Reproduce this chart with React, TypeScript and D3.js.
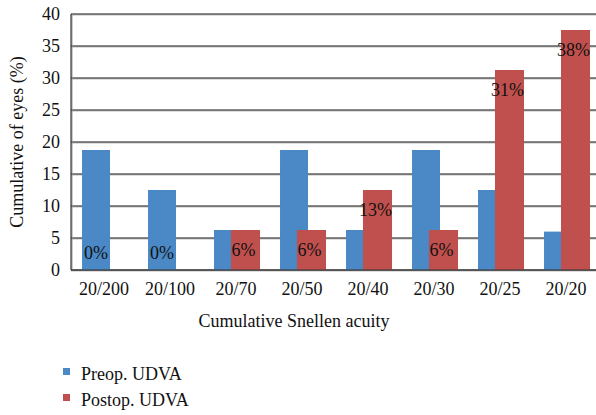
import React from 'react';
import * as d3 from 'd3';

const categories = ['20/200', '20/100', '20/70', '20/50', '20/40', '20/30', '20/25', '20/20'];
const preop = [18.75, 12.5, 6.25, 18.75, 6.25, 18.75, 12.5, 6];
const postop = [0, 0, 6.25, 6.25, 12.5, 6.25, 31.25, 37.5];
const postopLabels = ['0%', '0%', '6%', '6%', '13%', '6%', '31%', '38%'];
const yTicks = [0, 5, 10, 15, 20, 25, 30, 35, 40];
const seriesNames = ['Preop. UDVA', 'Postop. UDVA'];

const BLUE = '#4a88c6';
const RED = '#c0504d';
const FONT = "'Liberation Serif', serif";

const width = 596;
const height = 415;
const padding = { top: 14, left: 71, bottom: 145 };
const plotRight = 599;

export default function App() {
  const x = d3
    .scaleBand<string>()
    .domain(categories)
    .range([padding.left, plotRight]);

  const y = d3
    .scaleLinear()
    .domain([0, 40])
    .range([height - padding.bottom, padding.top]);

  const bw = x.bandwidth();
  const blueX = (c: string) => x(c)! + bw * 0.167;
  const blueW = bw * 0.424;
  const redX = (c: string) => x(c)! + bw * 0.424;
  const redW = bw * 0.44;

  const base = y(0);

  return (
    <svg
      width={width}
      height={height}
      style={{ position: 'absolute', left: 0, top: 0, background: '#fff', fontFamily: FONT }}
    >
      <g className="grid">
        {yTicks.map((t) => (
          <g key={t}>
            <line x1={padding.left} x2={width} y1={y(t) + 1} y2={y(t) + 1} stroke="#bbb" />
            <line x1={padding.left} x2={width} y1={y(t)} y2={y(t)} stroke="#111" />
          </g>
        ))}
      </g>
      <line x1={padding.left + 1} x2={padding.left + 1} y1={padding.top} y2={base} stroke="#999" />
      <line x1={padding.left} x2={padding.left} y1={padding.top} y2={base} stroke="#111" />

      <g className="bars">
        {categories.map((c, i) => (
          <g key={c}>
            <rect x={blueX(c)} y={y(preop[i])} width={blueW} height={base - y(preop[i])} fill={BLUE} />
            <rect x={redX(c)} y={y(postop[i])} width={redW} height={base - y(postop[i])} fill={RED} />
          </g>
        ))}
      </g>

      <line x1={padding.left} x2={width} y1={base} y2={base} stroke="#333" />

      <g className="labels" fontSize={18} fill="#111" textAnchor="middle">
        {categories.map((c, i) => {
          const cx = postop[i] === 0 ? blueX(c) + blueW / 2 : redX(c) + redW / 2 - 2;
          const cy = Math.min(y(postop[i]) + 20, base - 17);
          return (
            <text key={c} x={cx} y={cy} dy="0.35em">
              {postopLabels[i]}
            </text>
          );
        })}
      </g>

      <g className="y-axis" fontSize={18} fill="#111" textAnchor="end">
        {yTicks.map((t) => (
          <text key={t} x={60} y={y(t)} dy="0.35em">
            {t}
          </text>
        ))}
      </g>

      <g className="x-axis" fontSize={18} fill="#111" textAnchor="middle">
        {categories.map((c) => (
          <text key={c} x={x(c)! + bw / 2} y={295}>
            {c}
          </text>
        ))}
      </g>

      <text
        transform={`translate(23, ${(padding.top + base) / 2}) rotate(-90)`}
        textAnchor="middle"
        fontSize={18}
        fill="#111"
      >
        Cumulative of eyes (%)
      </text>
      <text x={294} y={327} textAnchor="middle" fontSize={18} fill="#111">
        Cumulative Snellen acuity
      </text>

      <g className="legend" fontSize={18} fill="#111">
        {seriesNames.map((name, i) => (
          <g key={name} transform={`translate(63, ${368 + i * 26})`}>
            <rect width={7} height={7} fill={i === 0 ? BLUE : RED} />
            <text x={18} y={12}>
              {name}
            </text>
          </g>
        ))}
      </g>
    </svg>
  );
}
